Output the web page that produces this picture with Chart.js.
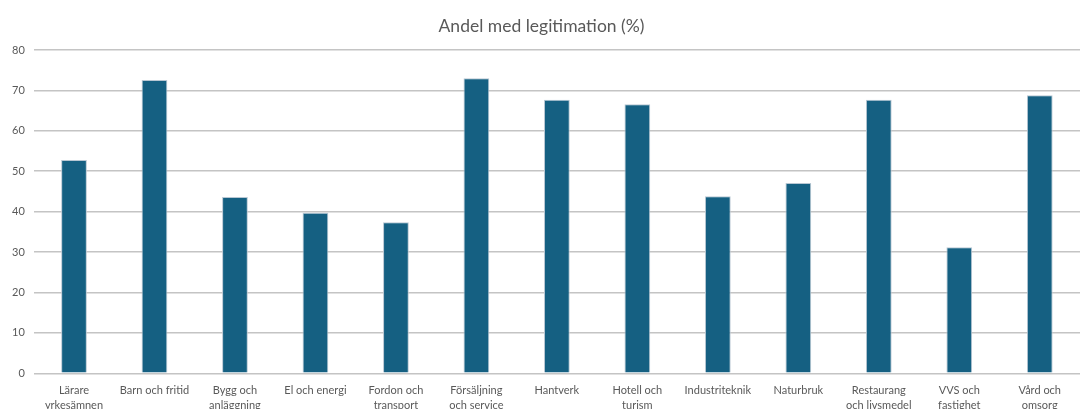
<!DOCTYPE html>
<html>
<head>
<meta charset="utf-8">
<script src="https://cdn.jsdelivr.net/npm/chart.js@4/dist/chart.umd.min.js"></script>
<style>
	html, body { margin: 0; padding: 0; background: #fff; overflow: hidden; }
	#wrap { width: 1080px; height: 423px; }
</style>
</head>
<body>
<div id="wrap"><canvas id="myChart" width="1080" height="423"></canvas></div>
<script>
let categories = [
	['Lärare', 'yrkesämnen'],
	'Barn och fritid',
	['Bygg och', 'anläggning'],
	'El och energi',
	['Fordon och', 'transport'],
	['Försäljning', 'och service'],
	'Hantverk',
	['Hotell och', 'turism'],
	'Industriteknik',
	'Naturbruk',
	['Restaurang', 'och livsmedel'],
	['VVS och', 'fastighet'],
	['Vård och', 'omsorg']
]
let values = [52.8, 72.6, 43.6, 39.7, 37.4, 73.0, 67.7, 66.6, 43.8, 47.1, 67.7, 31.2, 68.8]
let yTicks = [0, 10, 20, 30, 40, 50, 60, 70, 80]

let fontFamily = 'Lato, "Open Sans", sans-serif'

new Chart('myChart', {
	type: 'bar',
	data: {
		labels: categories,
		datasets: [
			{
				label: 'Andel med legitimation (%)',
				data: values,
				backgroundColor: '#156082',
				borderColor: '#b8c7d3',
				borderWidth: 1,
				categoryPercentage: 1,
				barPercentage: 0.32
			}
		]
	},
	options: {
		responsive: false,
		animation: false,
		layout: { padding: { left: 3, right: 0, top: 10, bottom: 0 } },
		plugins: {
			legend: { display: false },
			tooltip: { enabled: false },
			title: {
				display: true,
				text: 'Andel med legitimation (%)',
				color: '#595959',
				font: { family: fontFamily, size: 17.5, weight: 'normal' },
				padding: { top: 6, bottom: 13 }
			}
		},
		scales: {
			x: {
				grid: { display: false, drawTicks: false },
				border: { display: false },
				ticks: {
					color: '#595959',
					font: { family: fontFamily, size: 11, lineHeight: 1.35 },
					maxRotation: 0,
					autoSkip: false,
					padding: 10
				}
			},
			y: {
				min: 0,
				max: 80,
				afterBuildTicks: function(axis) {
					axis.ticks = yTicks.map(v => ({ value: v }))
				},
				grid: { color: '#c4c4c4', lineWidth: 1.5, drawTicks: false },
				border: { display: false },
				ticks: {
					color: '#595959',
					font: { family: fontFamily, size: 11 },
					padding: 9
				}
			}
		}
	}
})
</script>
</body>
</html>
